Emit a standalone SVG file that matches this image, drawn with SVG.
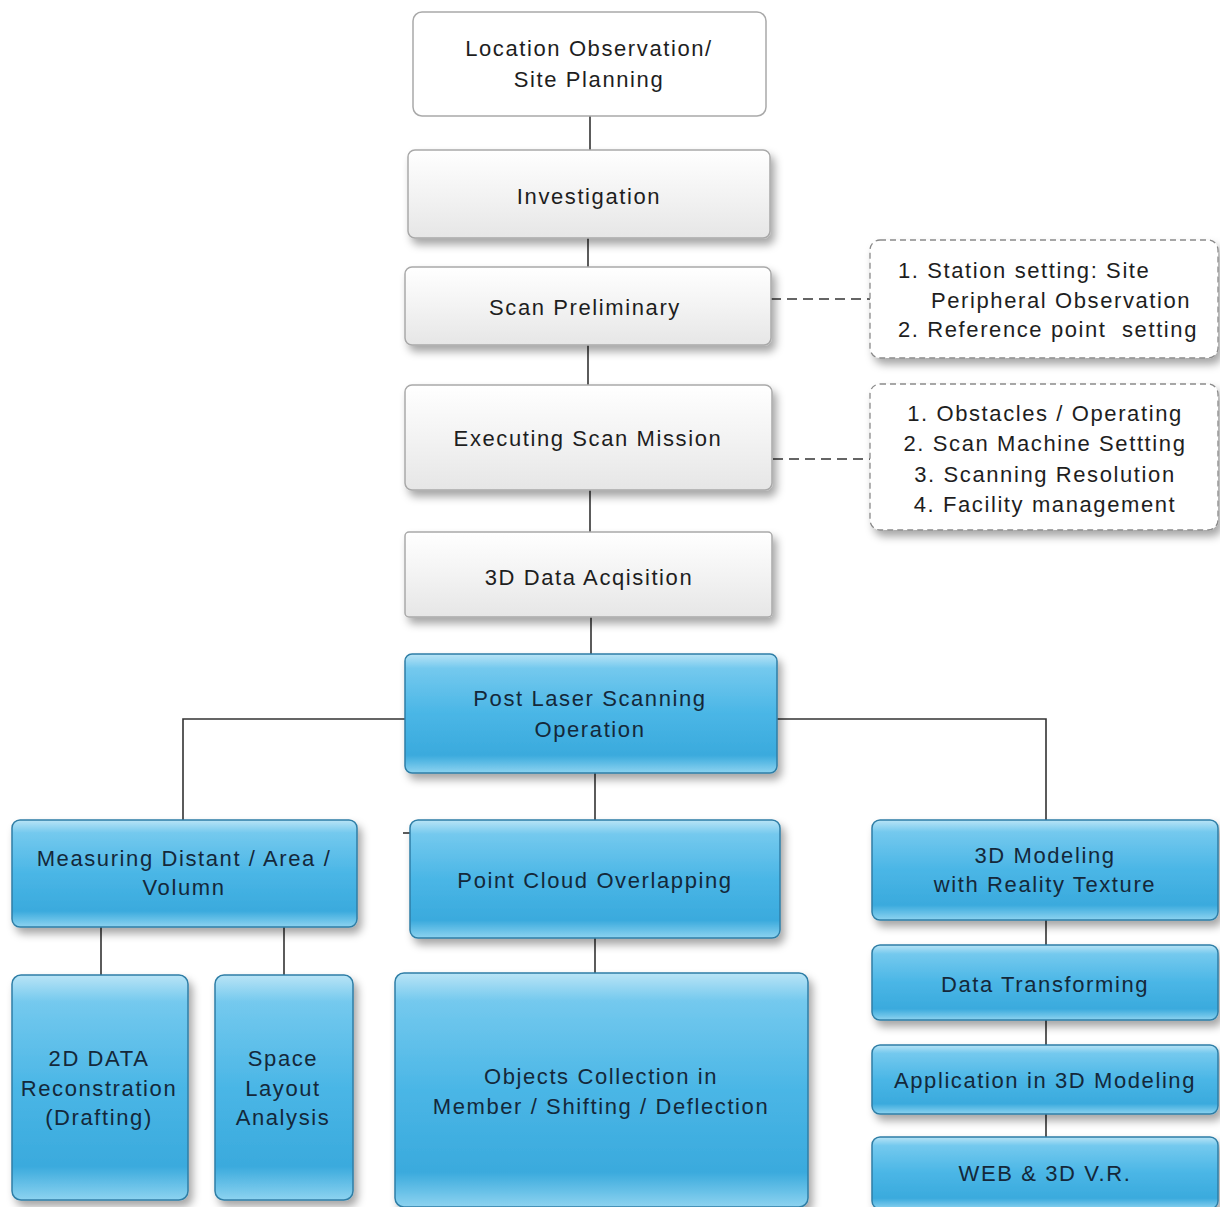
<svg xmlns="http://www.w3.org/2000/svg" width="1220" height="1207" viewBox="0 0 1220 1207">
<defs>
<linearGradient id="gGray" x1="0" y1="0" x2="0" y2="1">
<stop offset="0" stop-color="#ffffff"/>
<stop offset="0.5" stop-color="#f3f3f3"/>
<stop offset="1" stop-color="#e6e6e6"/>
</linearGradient>
<linearGradient id="gBlue" x1="0" y1="0" x2="0" y2="1">
<stop offset="0" stop-color="#b9e4f6"/>
<stop offset="0.12" stop-color="#74c9ee"/>
<stop offset="0.5" stop-color="#4ab6e6"/>
<stop offset="0.85" stop-color="#3aaadd"/>
<stop offset="1" stop-color="#8dd3f0"/>
</linearGradient>
<filter id="sh" x="-10%" y="-10%" width="125%" height="135%">
<feDropShadow dx="4" dy="6" stdDeviation="4" flood-color="#000" flood-opacity="0.35"/>
</filter>
<style>
.t{font-family:"Liberation Sans",Arial,sans-serif;font-size:22px;letter-spacing:1.6px;fill:#1e1e1e;text-anchor:middle}
.ts{text-anchor:start}
.bt{fill:#14283a}
.gray{fill:url(#gGray);stroke:#a9a9a9;stroke-width:1.5}
.white{fill:#ffffff;stroke:#a9a9a9;stroke-width:1.5}
.blue{fill:url(#gBlue);stroke:#2f7ea6;stroke-width:1.5}
.dash{fill:#ffffff;stroke:#8a8a8a;stroke-width:1.3;stroke-dasharray:6 4}
.ln{stroke:#333;stroke-width:1.6;fill:none}
.dl{stroke:#333;stroke-width:1.6;fill:none;stroke-dasharray:10 6}
</style>
</defs>
<rect width="1220" height="1207" fill="#ffffff"/>
<g id="connectors">
<line class="ln" x1="590" y1="116" x2="590" y2="150"/>
<line class="ln" x1="588" y1="238" x2="588" y2="267"/>
<line class="ln" x1="588" y1="345" x2="588" y2="385"/>
<line class="ln" x1="590" y1="490" x2="590" y2="532"/>
<line class="ln" x1="591" y1="617" x2="591" y2="654"/>
<line class="dl" x1="771" y1="299" x2="870" y2="299"/>
<line class="dl" x1="773" y1="459" x2="870" y2="459"/>
<polyline class="ln" points="405,719 183,719 183,820"/>
<polyline class="ln" points="777,719 1046,719 1046,820"/>
<line class="ln" x1="595" y1="773" x2="595" y2="820"/>
<line class="ln" x1="403" y1="833" x2="410" y2="833"/>
<line class="ln" x1="101" y1="927" x2="101" y2="975"/>
<line class="ln" x1="284" y1="927" x2="284" y2="975"/>
<line class="ln" x1="595" y1="938" x2="595" y2="973"/>
<line class="ln" x1="1046" y1="920" x2="1046" y2="945"/>
<line class="ln" x1="1046" y1="1020" x2="1046" y2="1045"/>
<line class="ln" x1="1046" y1="1114" x2="1046" y2="1137"/>
</g>
<g id="n1"><rect class="white" x="413" y="12" width="353" height="104" rx="9"/>
<text class="t" x="589" y="56">Location Observation/</text><text class="t" x="589" y="87">Site Planning</text></g>
<g id="n2"><rect class="gray" filter="url(#sh)" x="408" y="150" width="362" height="88" rx="7"/>
<text class="t" x="589" y="204">Investigation</text></g>
<g id="n3"><rect class="gray" filter="url(#sh)" x="405" y="267" width="366" height="78" rx="7"/>
<text class="t" x="585" y="315">Scan Preliminary</text></g>
<g id="n4"><rect class="gray" filter="url(#sh)" x="405" y="385" width="367" height="105" rx="7"/>
<text class="t" x="588" y="446">Executing Scan Mission</text></g>
<g id="n5"><rect class="gray" filter="url(#sh)" x="405" y="532" width="367" height="85" rx="4"/>
<text class="t" x="589" y="585">3D Data Acqisition</text></g>
<g id="s1"><rect class="dash" filter="url(#sh)" x="870" y="240" width="348" height="118" rx="10"/>
<text class="t ts" x="898" y="278">1. Station setting: Site</text>
<text class="t ts" x="931" y="308">Peripheral Observation</text>
<text class="t ts" x="898" y="337" xml:space="preserve">2. Reference point  setting</text></g>
<g id="s2"><rect class="dash" filter="url(#sh)" x="870" y="384" width="348" height="146" rx="10"/>
<text class="t" x="1045" y="421">1. Obstacles / Operating</text>
<text class="t" x="1045" y="451">2. Scan Machine Settting</text>
<text class="t" x="1045" y="482">3. Scanning Resolution</text>
<text class="t" x="1045" y="512">4. Facility management</text></g>
<g id="n6"><rect class="blue" filter="url(#sh)" x="405" y="654" width="372" height="119" rx="7"/>
<text class="t bt" x="590" y="706">Post Laser Scanning</text><text class="t bt" x="590" y="737">Operation</text></g>
<g id="n7"><rect class="blue" filter="url(#sh)" x="12" y="820" width="345" height="107" rx="8"/>
<text class="t bt" x="184" y="866">Measuring Distant / Area /</text><text class="t bt" x="184" y="895">Volumn</text></g>
<g id="n8"><rect class="blue" filter="url(#sh)" x="410" y="820" width="370" height="118" rx="8"/>
<text class="t bt" x="595" y="888">Point Cloud Overlapping</text></g>
<g id="n9"><rect class="blue" filter="url(#sh)" x="872" y="820" width="346" height="100" rx="8"/>
<text class="t bt" x="1045" y="863">3D Modeling</text><text class="t bt" x="1045" y="892">with Reality Texture</text></g>
<g id="n10"><rect class="blue" filter="url(#sh)" x="872" y="945" width="346" height="75" rx="8"/>
<text class="t bt" x="1045" y="992">Data Transforming</text></g>
<g id="n11"><rect class="blue" filter="url(#sh)" x="872" y="1045" width="346" height="69" rx="8"/>
<text class="t bt" x="1045" y="1088">Application in 3D Modeling</text></g>
<g id="n12"><rect class="blue" filter="url(#sh)" x="872" y="1137" width="346" height="72" rx="8"/>
<text class="t bt" x="1045" y="1181">WEB &amp; 3D V.R.</text></g>
<g id="n13"><rect class="blue" filter="url(#sh)" x="12" y="975" width="176" height="225" rx="9"/>
<text class="t bt" x="99" y="1066">2D DATA</text><text class="t bt" x="99" y="1096">Reconstration</text><text class="t bt" x="99" y="1125">(Drafting)</text></g>
<g id="n14"><rect class="blue" filter="url(#sh)" x="215" y="975" width="138" height="225" rx="9"/>
<text class="t bt" x="283" y="1066">Space</text><text class="t bt" x="283" y="1096">Layout</text><text class="t bt" x="283" y="1125">Analysis</text></g>
<g id="n15"><rect class="blue" filter="url(#sh)" x="395" y="973" width="413" height="234" rx="9"/>
<text class="t bt" x="601" y="1084">Objects Collection in</text><text class="t bt" x="601" y="1114">Member / Shifting / Deflection</text></g>
</svg>
